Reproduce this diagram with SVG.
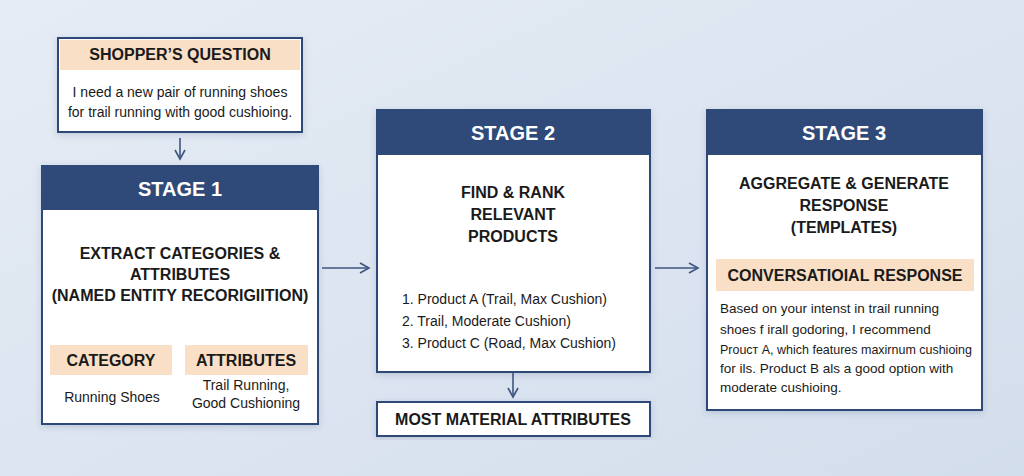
<svg xmlns="http://www.w3.org/2000/svg" width="1024" height="476" viewBox="0 0 1024 476">
<defs>
<linearGradient id="bg" x1="0" y1="0" x2="1" y2="1"><stop offset="0" stop-color="#e6ecf5"/><stop offset="1" stop-color="#d3deec"/></linearGradient>
<marker id="ah" markerWidth="12" markerHeight="12" refX="10" refY="6" orient="auto" markerUnits="userSpaceOnUse"><path d="M1,1 L10,6 L1,11" fill="none" stroke="#3f5680" stroke-width="1.6"/></marker>
<filter id="sh" x="-10%" y="-10%" width="120%" height="120%"><feDropShadow dx="0" dy="2" stdDeviation="3" flood-color="#34496f" flood-opacity="0.2"/></filter>
</defs>
<style>
text{font-family:"Liberation Sans",Arial,sans-serif;fill:#1a1a1a;text-anchor:middle}
.box{fill:#fff;stroke:#2f4a78;stroke-width:2;filter:url(#sh)}
.hdr{fill:#2f4a78}
.ht{fill:#fff;font-size:20px;font-weight:bold}
.pe{fill:#f9dfc6}
.b{font-weight:bold;font-size:16px}
.t{font-size:14px}
.l{font-size:13.5px;text-anchor:start}
.c{fill:none;stroke:#3f5680;stroke-width:1.6;marker-end:url(#ah)}
</style>
<rect width="1024" height="476" fill="url(#bg)"/>
<g id="connectors">
<path class="c" d="M180,138 V159"/>
<path class="c" d="M322,268 H369"/>
<path class="c" d="M513,373 V397"/>
<path class="c" d="M655,268 H698"/>
</g>
<g id="question">
<rect class="box" x="58" y="38" width="244" height="94"/>
<rect class="pe" x="60" y="40" width="240" height="30"/>
<text class="b" x="180" y="60" font-size="15">SHOPPER’S QUESTION</text>
<text class="t" x="180" y="97">I need a new pair of running shoes</text>
<text class="t" x="180" y="117">for trail running with good cushioing.</text>
</g>
<g id="stage1">
<rect class="box" x="42" y="166" width="276" height="258"/>
<rect class="hdr" x="42" y="166" width="276" height="44"/>
<text class="ht" x="180" y="196">STAGE 1</text>
<text class="b" x="180" y="259">EXTRACT CATEGORIES &amp;</text>
<text class="b" x="180" y="280">ATTRIBUTES</text>
<text class="b" x="180" y="301">(NAMED ENTITY RECORIGIITION)</text>
<rect class="pe" x="50" y="345" width="122" height="30"/>
<rect class="pe" x="185" y="345" width="123" height="30"/>
<text class="b" x="111" y="366" font-size="15">CATEGORY</text>
<text class="b" x="246" y="366" font-size="15">ATTRIBUTES</text>
<text class="t" x="112" y="402">Running Shoes</text>
<text class="t" x="246" y="390">Trail Running,</text>
<text class="t" x="246" y="408">Good Cushioning</text>
</g>
<g id="stage2">
<rect class="box" x="377" y="110" width="273" height="262"/>
<rect class="hdr" x="377" y="110" width="273" height="45"/>
<text class="ht" x="513" y="140">STAGE 2</text>
<text class="b" x="513" y="198">FIND &amp; RANK</text>
<text class="b" x="513" y="220">RELEVANT</text>
<text class="b" x="513" y="242">PRODUCTS</text>
<text class="t" x="402" y="304" style="text-anchor:start">1.  Product A (Trail, Max Cushion)</text>
<text class="t" x="402" y="326" style="text-anchor:start">2.  Trail, Moderate Cushion)</text>
<text class="t" x="402" y="348" style="text-anchor:start">3.  Product C (Road, Max Cushion)</text>
</g>
<g id="material">
<rect class="box" x="377" y="402" width="273" height="34"/>
<text class="b" x="513" y="425" font-size="14">MOST MATERIAL ATTRIBUTES</text>
</g>
<g id="stage3">
<rect class="box" x="707" y="110" width="275" height="300"/>
<rect class="hdr" x="707" y="110" width="275" height="45"/>
<text class="ht" x="844" y="140">STAGE 3</text>
<text class="b" x="844" y="189">AGGREGATE &amp; GENERATE</text>
<text class="b" x="844" y="211">RESPONSE</text>
<text class="b" x="844" y="233">(TEMPLATES)</text>
<rect class="pe" x="716" y="259" width="258" height="32"/>
<text class="b" x="845" y="281">CONVERSATIOIAL RESPONSE</text>
<text class="l" x="720" y="313">Based on your intenst in trail running</text>
<text class="l" x="720" y="334">shoes f irall godoring, I recommend</text>
<text class="l" x="720" y="354" textLength="252" lengthAdjust="spacingAndGlyphs">Proucт A, which features maxirnum cushioing</text>
<text class="l" x="720" y="373">for ils. Product B als a good option with</text>
<text class="l" x="720" y="392">moderate cushioing.</text>
</g>
</svg>
